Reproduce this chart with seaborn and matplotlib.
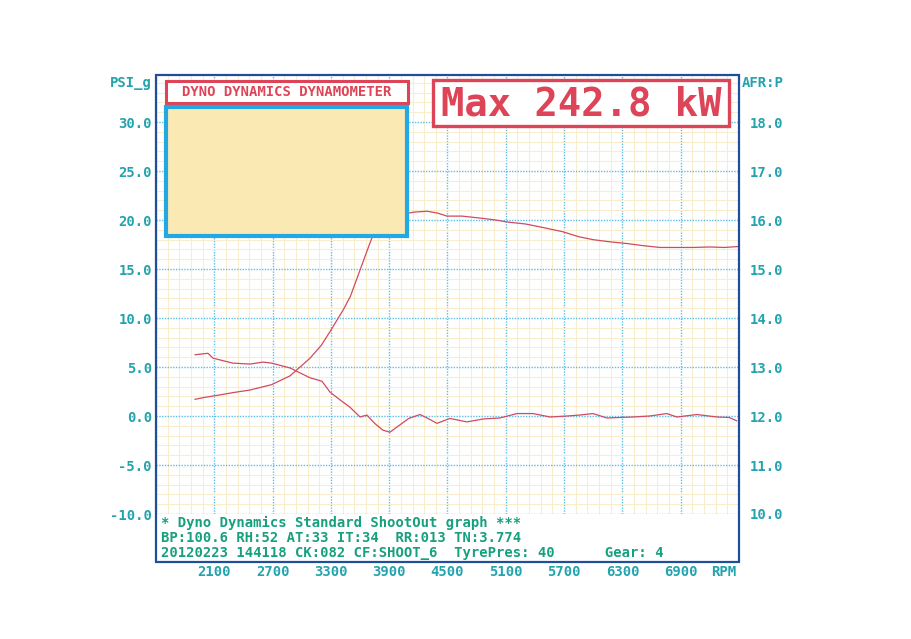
import matplotlib
matplotlib.use('Agg')
import matplotlib.pyplot as plt
import matplotlib.patches as mpatches
import seaborn as sns

# boost curve (PSI, left axis)
boost_rpm = [1900, 2000, 2125, 2300, 2467, 2690, 2880, 3085, 3200, 3290, 3425, 3500,
             3600, 3700, 3754, 3850, 3950, 4042, 4150, 4289, 4400, 4495, 4650, 4834,
             5000, 5112, 5300, 5452, 5688, 5850, 5997, 6150, 6347, 6500, 6687, 6850,
             7026, 7200, 7350, 7500]
boost_psi = [1.7, 1.9, 2.1, 2.4, 2.65, 3.2, 4.1, 5.9, 7.2, 8.6, 10.8, 12.2,
             14.9, 17.6, 19.0, 19.9, 20.4, 20.6, 20.8, 20.9, 20.7, 20.4, 20.4, 20.2,
             20.0, 19.8, 19.6, 19.3, 18.8, 18.3, 18.0, 17.8, 17.6, 17.4, 17.2, 17.2,
             17.2, 17.25, 17.2, 17.3]

# air fuel ratio (right axis)
afr_rpm = [1900, 2035, 2087, 2290, 2467, 2600, 2690, 2880, 3085, 3208, 3290, 3400,
           3496, 3600, 3670, 3750, 3836, 3908, 4011, 4100, 4217, 4300, 4391, 4525,
           4700, 4870, 5040, 5215, 5380, 5555, 5730, 5863, 5997, 6140, 6410, 6580,
           6758, 6860, 7067, 7273, 7400, 7478]
afr = [13.25, 13.28, 13.18, 13.08, 13.06, 13.1, 13.08, 12.98, 12.78, 12.71, 12.49, 12.32,
       12.18, 11.98, 12.02, 11.85, 11.71, 11.67, 11.82, 11.95, 12.03, 11.95, 11.85, 11.95,
       11.88, 11.94, 11.96, 12.05, 12.05, 11.98, 12.0, 12.02, 12.05, 11.96, 11.98, 12.0,
       12.05, 11.98, 12.03, 11.98, 11.97, 11.9]

rpm_grid = list(range(1500, 7501, 600))
rpm_labels = ['', '2100', '2700', '3300', '3900', '4500', '5100', '5700', '6300', '6900', '']
psi_ticks = [-10, -5, 0, 5, 10, 15, 20, 25, 30]
afr_ticks = [10, 11, 12, 13, 14, 15, 16, 17, 18]

info_lines = ['* Dyno Dynamics Standard ShootOut graph ***',
              'BP:100.6 RH:52 AT:33 IT:34  RR:013 TN:3.774',
              '20120223 144118 CK:082 CF:SHOOT_6  TyrePres: 40      Gear: 4']

sns.set_style('white')
plt.rcParams['font.family'] = ['DejaVu Sans Mono']
plt.rcParams['font.weight'] = 'bold'

W, H = 912, 639
def px(x, y):
    return x / W, 1 - y / H

teal = '#22a3ad'
green = '#17a07e'
red = '#de4458'
line_red = '#d04a60'

fig = plt.figure(figsize=(9.12, 6.39), dpi=100)
ax = fig.add_axes([156 / W, 1 - 514 / H, 583 / W, 439 / H])
ax.set_xlim(1500, 7500)
ax.set_ylim(-10, 34.8)

ax.set_xticks(rpm_grid)
ax.set_xticks(list(range(1500, 7501, 120)), minor=True)
ax.set_yticks(psi_ticks)
ax.set_yticks(list(range(-10, 35)), minor=True)
ax.set_xticklabels(rpm_labels)
ax.set_yticklabels([f'{v:.1f}' for v in psi_ticks])
ax.grid(which='minor', color='#f8edcd', lw=0.8)
ax.grid(which='major', color='#5cbfe8', lw=1.0, linestyle=(0, (1, 1)))
ax.set_axisbelow(True)
ax.tick_params(axis='x', which='both', length=0, pad=37, labelcolor=teal, labelsize=10)
ax.tick_params(axis='y', which='both', length=0, pad=3, labelcolor=teal, labelsize=10)
for s in ax.spines.values():
    s.set_visible(False)

sns.lineplot(x=boost_rpm, y=boost_psi, ax=ax, color=line_red, lw=0.9, estimator=None, sort=False)
ax.set_xlabel('')
ax.set_ylabel('')

ax2 = ax.twinx()
ax2.set_ylim(10, 18.96)
sns.lineplot(x=afr_rpm, y=afr, ax=ax2, color=line_red, lw=0.9, estimator=None, sort=False)
ax2.set_yticks(afr_ticks)
ax2.set_yticklabels([f'{v:.1f}' for v in afr_ticks])
ax2.tick_params(axis='y', length=0, pad=8, labelcolor=teal, labelsize=10)
ax2.set_ylabel('')
ax2.grid(False)
for s in ax2.spines.values():
    s.set_visible(False)

# outer frame
x0, y0 = px(156, 562)
fig.add_artist(mpatches.Rectangle((x0, y0), 583 / W, 487 / H, transform=fig.transFigure,
                                  fill=False, edgecolor='#1f4e9c', lw=1.6, zorder=10))

# header boxes
x0, y0 = px(166, 103)
fig.add_artist(mpatches.Rectangle((x0, y0), 242 / W, 22 / H, transform=fig.transFigure,
                                  facecolor='white', edgecolor=red, lw=2.2, zorder=10))
fig.text(*px(287, 92.5), 'DYNO DYNAMICS DYNAMOMETER', color=red, fontsize=10,
         ha='center', va='center', zorder=11)

x0, y0 = px(166, 236)
fig.add_artist(mpatches.Rectangle((x0, y0), 241 / W, 129 / H, transform=fig.transFigure,
                                  facecolor='#fbe9b4', edgecolor='#22a8e2', lw=3, zorder=10))

x0, y0 = px(433, 126)
fig.add_artist(mpatches.Rectangle((x0, y0), 296 / W, 46 / H, transform=fig.transFigure,
                                  facecolor='white', edgecolor=red, lw=2.4, zorder=10))
fig.text(*px(581, 104), 'Max 242.8 kW', color=red, fontsize=28,
         ha='center', va='center', zorder=11)

# axis captions
fig.text(*px(152, 83), 'PSI_g', color=teal, fontsize=10, ha='right', va='center')
fig.text(*px(742, 83), 'AFR:P', color=teal, fontsize=10, ha='left', va='center')
fig.text(*px(724, 572), 'RPM', color=teal, fontsize=10, ha='center', va='center')

for i, line in enumerate(info_lines):
    fig.text(*px(161, 523 + 15 * i), line, color=green, fontsize=10, ha='left', va='center')

fig.savefig('out.png', dpi=100, facecolor='white')
